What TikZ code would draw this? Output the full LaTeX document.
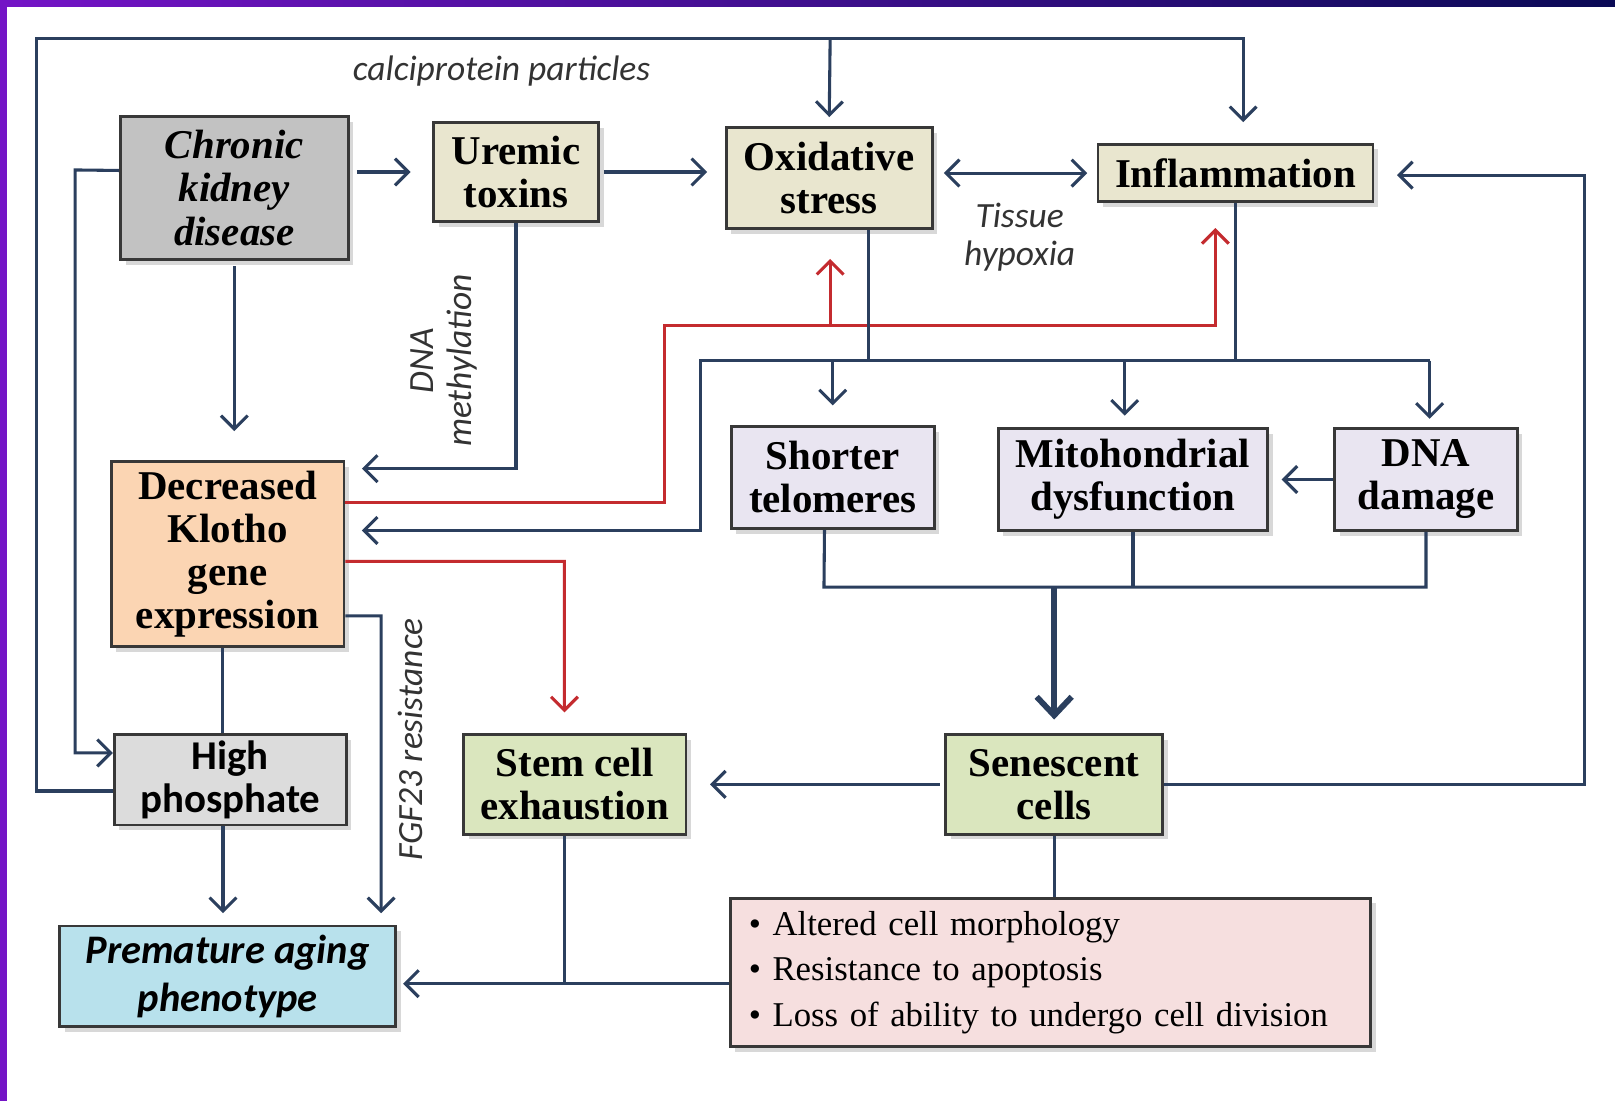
\documentclass[tikz,border=0pt]{standalone}
\usepackage{fontspec}
\setmainfont{Liberation Serif}
\newfontfamily\calibri{Carlito}
\usepackage{xcolor}
\usetikzlibrary{arrows.meta,positioning,shadows}

\definecolor{navyline}{HTML}{2B3F5E}
\definecolor{redline}{HTML}{C42B2F}
\definecolor{ckdgray}{HTML}{C2C2C2}
\definecolor{boxbeige}{HTML}{E9E6CF}
\definecolor{peach}{HTML}{FBD5B3}
\definecolor{lavender}{HTML}{E9E5F1}
\definecolor{phosgray}{HTML}{DCDCDC}
\definecolor{palegreen}{HTML}{DAE6BE}
\definecolor{paleblue}{HTML}{B8E1EC}
\definecolor{palepink}{HTML}{F6DFDF}
\definecolor{barpurple}{HTML}{7414C6}
\definecolor{barblue}{HTML}{2416B4}
\definecolor{barnavy}{HTML}{0A0A55}

\newcommand{\boxfont}{\fontsize{11.3}{11.9}\selectfont}

\begin{document}
\begin{tikzpicture}[
  x=0.1mm, y=-0.1mm,
  box/.style={rectangle, draw=black!78, line width=0.8pt, align=center, inner sep=0pt,
              font=\boxfont\bfseries,
              drop shadow={shadow xshift=0.5mm, shadow yshift=-0.5mm, opacity=0.3}},
  arrow/.style={-{Straight Barb[length=1.3mm,width=2.6mm]}, line width=0.85pt, draw=navyline},
  link/.style={line width=0.85pt, draw=navyline},
  redarrow/.style={-{Straight Barb[length=1.3mm,width=2.6mm]}, line width=0.85pt, draw=redline},
  note/.style={font=\calibri\itshape\fontsize{9.8}{10.5}\selectfont, text=black!80, align=center}
]
\useasboundingbox (0,0) rectangle (1568,1069);
\fill[white] (0,0) rectangle (1568,1069);
\fill[barpurple] (0,0) rectangle (6.5,1069);
\shade[left color=barpurple, middle color=barblue, right color=barnavy] (0,0) rectangle (1568,6);

% boxes
\node[box, fill=ckdgray, minimum width=22.1mm, minimum height=13.9mm, font=\boxfont\bfseries\itshape] (ckd) at (227.5,182.5) {Chronic\\kidney\\disease};
\node[box, fill=boxbeige, minimum width=16mm, minimum height=9.6mm] (uremic) at (501,167) {Uremic\\toxins};
\node[box, fill=boxbeige, minimum width=20mm, minimum height=9.8mm] (oxid) at (805,173) {Oxidative\\stress};
\node[box, fill=boxbeige, minimum width=26.7mm, minimum height=5.6mm] (inflam) at (1199.5,168) {Inflammation};
\node[box, fill=peach, minimum width=22.6mm, minimum height=18mm] (klotho) at (221,538) {Decreased\\Klotho\\gene\\expression};
\node[box, fill=lavender, minimum width=19.7mm, minimum height=9.9mm] (telo) at (808.5,463.5) {Shorter\\telomeres};
\node[box, fill=lavender, minimum width=26.2mm, minimum height=9.9mm] (mito) at (1100,465.5) {Mitohondrial\\dysfunction};
\node[box, fill=lavender, minimum width=17.7mm, minimum height=9.9mm] (dnadam) at (1384.5,465.5) {DNA\\damage};
\node[box, fill=phosgray, minimum width=22.5mm, minimum height=8.8mm, font=\calibri\boxfont\bfseries] (phos) at (223.5,757) {High\\phosphate};
\node[box, fill=palegreen, minimum width=21.6mm, minimum height=9.7mm] (stem) at (558,761.5) {Stem cell\\exhaustion};
\node[box, fill=palegreen, minimum width=21.1mm, minimum height=9.7mm] (senes) at (1023.5,761.5) {Senescent\\cells};
\node[box, fill=paleblue, minimum width=32.6mm, minimum height=9.8mm, font=\calibri\fontsize{11.2}{13.2}\selectfont\bfseries\itshape] (aging) at (221,948) {Premature aging\\phenotype};
\node[box, fill=palepink, minimum width=62.2mm, minimum height=14.4mm, inner xsep=1.8mm, text width=58.6mm, align=left, font=\fontsize{9.6}{12.6}\selectfont] (traits) at (1020,944) {\textbullet{} Altered cell morphology\\\textbullet{} Resistance to apoptosis\\\textbullet{} Loss of ability to undergo cell division};

% labels
\node[note] (calci) at (487,69) {calciprotein particles};
\node[note] (hypox) at (990,230) {Tissue\\hypoxia};
\node[note, rotate=90] (methyl) at (431,350) {DNA\\methylation};
\node[note, rotate=90] (fgfres) at (398,718) {FGF23 resistance};

% bend points
\coordinate (topL) at (35,37);
\coordinate (topM) at (806,37);
\coordinate (topR) at (1207,37);
\coordinate (ckdL) at (73,165);
\coordinate (redTurn) at (645,316);
\coordinate (redMid) at (806,316);
\coordinate (redEnd) at (1180,316);
\coordinate (redDown) at (548,545);
\coordinate (busL) at (680,350);
\coordinate (busR) at (1388,350);
\coordinate (joinL) at (800,570);
\coordinate (rightC) at (1538,170);
\coordinate (botJ) at (548,955);
\coordinate (fgf) at (370,598);

% connectors
\draw[arrow, shorten >=2mm] ([yshift=-1.1mm]phos.west) -| (topL) -- (topR) -- (topR |- inflam.north);
\draw[arrow, shorten >=0.9mm] (topM) -- (oxid.north);
\draw[arrow] ([yshift=1.7mm]ckd.west) -- (ckdL) |- ([yshift=2.6mm]phos.west);
\draw[arrow, shorten <=0.7mm, shorten >=2.1mm] (ckd.east |- uremic.west) -- (uremic.west);
\draw[arrow, shorten <=0.4mm, shorten >=1.7mm] (uremic.east) -- (oxid.west |- uremic.east);
\draw[arrow, {Straight Barb[length=1.3mm,width=2.6mm]}-{Straight Barb[length=1.3mm,width=2.6mm]}, shorten <=1mm, shorten >=0.9mm] (oxid.east |- inflam.west) -- (inflam.west);
\draw[arrow, shorten <=0.5mm, shorten >=2.8mm] (ckd.south) -- (ckd.south |- klotho.north);
\draw[arrow, shorten >=1.6mm] (uremic.south) |- ([yshift=8.3mm]klotho.east);
\draw[redarrow, shorten >=2.4mm] ([yshift=5mm]klotho.east) -| (redTurn) -- (redEnd) -- (redEnd |- inflam.south);
\draw[redarrow, shorten >=2.8mm] (redMid) -- (redMid |- oxid.south);
\draw[redarrow, shorten >=2mm] ([yshift=-0.7mm]klotho.east) -- (redDown) -- (redDown |- stem.north);
\draw[link] ([xshift=3.8mm]oxid.south) -- ([xshift=3.8mm]oxid.south |- busL);
\draw[link] (inflam.south) -- (inflam.south |- busL);
\draw[arrow, shorten >=1.6mm] (busR) -- (busL) |- ([yshift=2.3mm]klotho.east);
\draw[arrow, shorten >=1.9mm] (telo.north |- busL) -- (telo.north);
\draw[arrow, shorten >=1.1mm] ([xshift=-0.8mm]mito.north |- busL) -- ([xshift=-0.8mm]mito.north);
\draw[arrow, shorten >=0.8mm] (busR) -- (busR |- dnadam.north);
\draw[arrow, shorten >=1.2mm] (dnadam.west) -- (mito.east);
\draw[link] ([xshift=-0.8mm]telo.south) -- (joinL) -- (dnadam.south |- joinL) -- (dnadam.south);
\draw[link] (mito.south) -- (mito.south |- joinL);
\draw[arrow, line width=1.6pt, -{Straight Barb[length=1.8mm,width=3.4mm]}, shorten >=1.3mm] (senes.north |- joinL) -- (senes.north);
\draw[arrow, shorten <=0.4mm, shorten >=2.2mm] (senes.west) -- (stem.east);
\draw[arrow, shorten >=2.2mm] (senes.east) -| (rightC) -- (rightC -| inflam.east);
\draw[link] (senes.south) -- (senes.south |- traits.north);
\draw[link] (stem.south -| botJ) -- (botJ);
\draw[arrow, shorten >=0.6mm] (traits.west |- botJ) -- (aging.east |- botJ);
\draw[link] ([xshift=-0.5mm]klotho.south) -- ([xshift=-0.5mm]klotho.south |- phos.north);
\draw[arrow, shorten >=1.1mm] ([xshift=-0.7mm]phos.south) -- ([xshift=-0.7mm]phos.south |- aging.north);
\draw[arrow, shorten >=1.1mm] ([yshift=-6mm]klotho.east) -- (fgf) -- (fgf |- aging.north);
\end{tikzpicture}
\end{document}
